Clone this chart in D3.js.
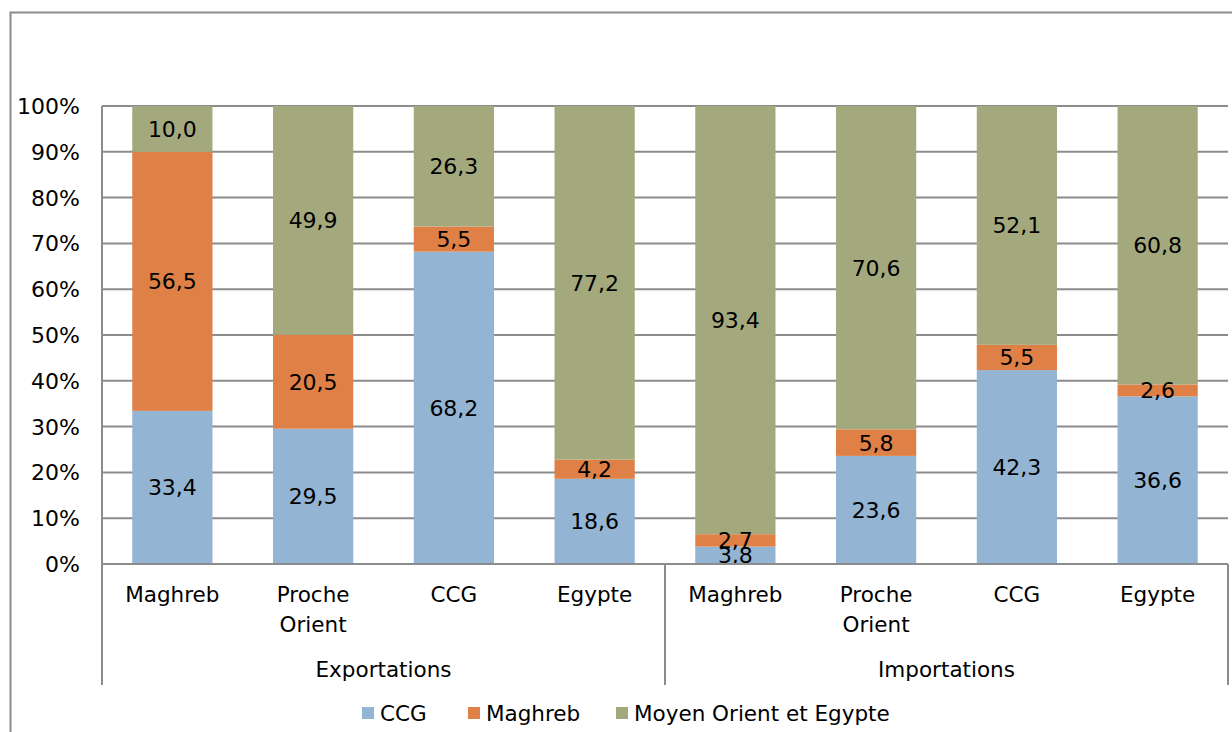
<!DOCTYPE html>
<html>
<head>
<meta charset="utf-8">
<script src="https://cdn.jsdelivr.net/npm/d3@7"></script>
<style>
  body { margin: 0; background: #fff; }
  text { font-family: "DejaVu Sans", sans-serif; fill: #000; }
</style>
</head>
<body>
<div id="chart"></div>
<script>
var W = 1232, H = 732;
var groups = ["Exportations", "Importations"];
var regions = ["Maghreb", "Proche Orient", "CCG", "Egypte"];
var seriesNames = ["CCG", "Maghreb", "Moyen Orient et Egypte"];
var colors = ["#93b4d3", "#df8047", "#a3a97d"];
// values per bar, in order Exportations x regions then Importations x regions
var ccgVals = [33.4, 29.5, 68.2, 18.6, 3.8, 23.6, 42.3, 36.6];
var maghrebVals = [56.5, 20.5, 5.5, 4.2, 2.7, 5.8, 5.5, 2.6];
var moyenVals = [10.0, 49.9, 26.3, 77.2, 93.4, 70.6, 52.1, 60.8];
var yTicks = [0, 0.1, 0.2, 0.3, 0.4, 0.5, 0.6, 0.7, 0.8, 0.9, 1];

var rows = [];
groups.forEach(function (g, gi) {
  regions.forEach(function (r, ri) {
    var i = gi * regions.length + ri;
    rows.push({ key: g + "|" + r, group: g, region: r, s0: ccgVals[i], s1: maghrebVals[i], s2: moyenVals[i] });
  });
});

var margin = { left: 102, right: 4, top: 106, bottom: 168 };
var fs = "21.5px";

var svg = d3.select("#chart").append("svg").attr("width", W).attr("height", H);

// outer frame (runs past the right and bottom edges)
svg.append("rect")
  .attr("x", 10.5).attr("y", 12.5)
  .attr("width", W).attr("height", H)
  .attr("fill", "none").attr("stroke", "#8c8c8c").attr("stroke-width", 2);

var x = d3.scaleBand()
  .domain(rows.map(function (d) { return d.key; }))
  .range([margin.left, W - margin.right])
  .paddingInner(0.43).paddingOuter(0.215);

var y = d3.scaleLinear().domain([0, 1]).range([H - margin.bottom, margin.top]);

// gridlines
svg.append("g").selectAll("line").data(yTicks).enter().append("line")
  .attr("x1", margin.left).attr("x2", W - margin.right)
  .attr("y1", function (d) { return y(d); }).attr("y2", function (d) { return y(d); })
  .attr("stroke", "#8c8c8c").attr("stroke-width", 2);

// y tick labels
svg.append("g").selectAll("text").data(yTicks).enter().append("text")
  .attr("x", 80).attr("y", function (d) { return y(d); })
  .attr("dy", "0.36em").attr("text-anchor", "end")
  .style("font-size", "22px")
  .text(function (d) { return Math.round(d * 100) + "%"; });

var stack = d3.stack().keys(["s0", "s1", "s2"]).offset(d3.stackOffsetExpand);
var layers = stack(rows);

var layer = svg.append("g").selectAll("g").data(layers).enter().append("g")
  .attr("fill", function (d, i) { return colors[i]; });

layer.selectAll("rect").data(function (d) { return d; }).enter().append("rect")
  .attr("x", function (d) { return x(d.data.key); })
  .attr("width", x.bandwidth())
  .attr("y", function (d) { return y(d[1]); })
  .attr("height", function (d) { return y(d[0]) - y(d[1]); });

// value labels
layers.forEach(function (L) {
  svg.append("g").selectAll("text").data(L).enter().append("text")
    .attr("x", function (d) { return x(d.data.key) + x.bandwidth() / 2; })
    .attr("y", function (d) { return (y(d[0]) + y(d[1])) / 2; })
    .attr("dy", "0.36em").attr("text-anchor", "middle")
    .style("font-size", "22px")
    .text(function (d) { return d3.format(".1f")(d.data[L.key]).replace(".", ","); });
});

// axis lines and group separators
var axisY = y(0);
var bottomY = 685;
svg.append("line").attr("x1", margin.left).attr("x2", W - margin.right)
  .attr("y1", axisY).attr("y2", axisY).attr("stroke", "#8c8c8c").attr("stroke-width", 2);
svg.append("line").attr("x1", margin.left).attr("x2", margin.left)
  .attr("y1", margin.top).attr("y2", bottomY).attr("stroke", "#8c8c8c").attr("stroke-width", 2);

var step = x.step();
var sepXs = [x(rows[3].key) + x.bandwidth() + step * 0.43 / 2, W - margin.right];
sepXs.forEach(function (sx) {
  svg.append("line").attr("x1", sx).attr("x2", sx)
    .attr("y1", axisY).attr("y2", bottomY).attr("stroke", "#8c8c8c").attr("stroke-width", 2);
});

// category labels
var cat = svg.append("g").selectAll("text").data(rows).enter().append("text")
  .attr("x", function (d) { return x(d.key) + x.bandwidth() / 2; })
  .attr("y", 602).attr("text-anchor", "middle")
  .style("font-size", fs);
cat.each(function (d) {
  var words = d.region.split(" ");
  var t = d3.select(this);
  words.forEach(function (w, i) {
    t.append("tspan").attr("x", x(d.key) + x.bandwidth() / 2).attr("dy", i ? 30 : 0).text(w);
  });
});

// group labels
groups.forEach(function (g, gi) {
  var first = x(rows[gi * 4].key), last = x(rows[gi * 4 + 3].key) + x.bandwidth();
  svg.append("text").attr("x", (first + last) / 2).attr("y", 677)
    .attr("text-anchor", "middle").style("font-size", fs).text(g);
});

// legend
var legendX = [362, 468, 616];
var leg = svg.append("g").selectAll("g").data(seriesNames).enter().append("g")
  .attr("transform", function (d, i) { return "translate(" + legendX[i] + ",713)"; });
leg.append("rect").attr("x", 0).attr("y", -6).attr("width", 12).attr("height", 12)
  .attr("fill", function (d, i) { return colors[i]; });
leg.append("text").attr("x", 18).attr("dy", "0.36em").style("font-size", fs).text(function (d) { return d; });
</script>
</body>
</html>
